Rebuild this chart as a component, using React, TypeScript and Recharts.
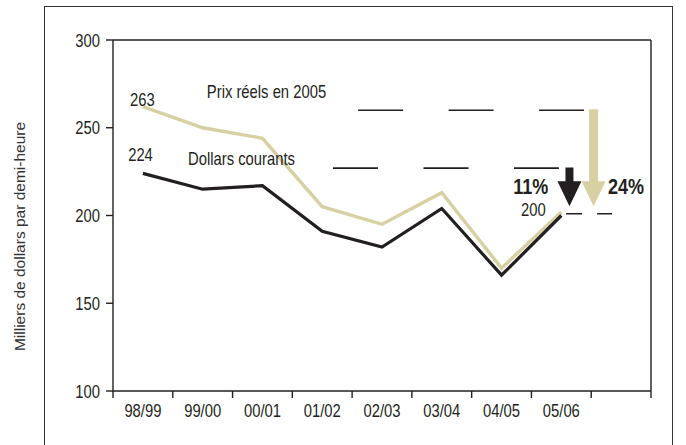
import React from 'react';
import {
  ComposedChart,
  Line,
  XAxis,
  YAxis,
  ReferenceLine,
  ReferenceDot,
} from 'recharts';

// ---------- data ----------
const categories = ['98/99', '99/00', '00/01', '01/02', '02/03', '03/04', '04/05', '05/06'];
const realPrices2005 = [262, 250, 244, 205, 195, 213, 170, 202];
const currentDollars = [224, 215, 217, 191, 182, 204, 166, 200];
const yTicks = [100, 150, 200, 250, 300];
const yTitle = 'Milliers de dollars par demi-heure';

// ---------- styles ----------
const INK = '#231F20';
const BEIGE = '#D7D0A2';
const SANS = "'Liberation Sans', Arial, Helvetica, sans-serif";
const SQUEEZE = 0.8;
const TICK_SIZE = 7;
const X_TICK_MARGIN = 6;

const bandCount = categories.length + 1; // one empty band at the right
const rows = categories.map((cat, i) => ({
  cat,
  pos: i + 0.5,
  real: realPrices2005[i],
  cur: currentDollars[i],
}));
const boundaryTicks = Array.from({ length: bandCount + 1 }, (_, i) => i);
const labelTicks = categories.map((_, i) => i + 0.5);
const xTicks = [...boundaryTicks, ...labelTicks].sort((a, b) => a - b);

const NarrowText = ({ x, y, dy, anchor, size, bold, children }: any) => (
  <text
    transform={`translate(${x} ${y}) scale(${SQUEEZE} 1)`}
    x={0}
    y={0}
    dy={dy}
    textAnchor={anchor}
    fontFamily={SANS}
    fontSize={size}
    fontWeight={bold ? 'bold' : 'normal'}
    fill={INK}
  >
    {children}
  </text>
);

const XTick = (props: any) => {
  const { x, y, payload } = props;
  const v = payload.value as number;
  if (Number.isInteger(v)) {
    return (
      <line
        x1={x}
        x2={x}
        y1={y - X_TICK_MARGIN - TICK_SIZE}
        y2={y - X_TICK_MARGIN}
        stroke={INK}
        strokeWidth={1.4}
      />
    );
  }
  return (
    <NarrowText x={x} y={y} dy="0.71em" anchor="middle" size={18.5}>
      {categories[Math.floor(v)]}
    </NarrowText>
  );
};

const YTick = (props: any) => {
  const { x, y, payload } = props;
  return (
    <NarrowText x={x} y={y} dy="0.355em" anchor="end" size={18.5}>
      {payload.value}
    </NarrowText>
  );
};

const YTitle = (props: any) => {
  const vb = props.viewBox || {};
  const cx = vb.x + 19;
  const cy = vb.y + vb.height / 2 + 21;
  return (
    <text
      x={cx}
      y={cy}
      transform={`rotate(-90 ${cx} ${cy})`}
      textAnchor="middle"
      dominantBaseline="central"
      fontFamily={SANS}
      fontSize={15.5}
      fill="#333"
    >
      {yTitle}
    </text>
  );
};

const arrowShape = (color: string, halfShaft: number, halfHead: number, headLen: number) => (p: any) => {
  const x = p.x1;
  const top = Math.min(p.y1, p.y2);
  const tip = Math.max(p.y1, p.y2);
  const hb = tip - headLen;
  const pts = [
    [x - halfShaft, top],
    [x + halfShaft, top],
    [x + halfShaft, hb],
    [x + halfHead, hb],
    [x, tip],
    [x - halfHead, hb],
    [x - halfShaft, hb],
  ]
    .map((q) => q.join(','))
    .join(' ');
  return <polygon points={pts} fill={color} />;
};

const textShape = (text: string, anchor: string, size: number, bold = false) => (p: any) => (
  <NarrowText x={p.cx} y={p.cy} dy="0.36em" anchor={anchor} size={size} bold={bold}>
    {text}
  </NarrowText>
);

// annotation placements (in axis units)
const notes = [
  { text: '263', x: 0.49, y: 266, anchor: 'middle', size: 18.5 },
  { text: '224', x: 0.46, y: 235, anchor: 'middle', size: 18.5 },
  { text: 'Prix réels en 2005', x: 1.57, y: 270.5, anchor: 'start', size: 18.5 },
  { text: 'Dollars courants', x: 1.255, y: 232.5, anchor: 'start', size: 18.5 },
  { text: '11%', x: 7.28, y: 217, anchor: 'end', size: 22.5, bold: true },
  { text: '24%', x: 8.28, y: 217, anchor: 'start', size: 22.5, bold: true },
  { text: '200', x: 7.24, y: 203.5, anchor: 'end', size: 18.5 },
];

export default function App() {
  return (
    <div style={{ position: 'absolute', left: 0, top: 0, width: 686, height: 445, overflow: 'hidden', background: '#fff' }}>
      <div
        style={{
          position: 'absolute',
          left: 44,
          top: 6,
          width: 629,
          height: 480,
          border: '1.4px solid #333',
          boxSizing: 'border-box',
        }}
      />
      <div style={{ position: 'absolute', left: 0, top: 0 }}>
        <ComposedChart
          width={686}
          height={445}
          data={rows}
          margin={{ top: 40, right: 35, bottom: 0, left: 0 }}
        >
          <XAxis
            dataKey="pos"
            type="number"
            domain={[0, bandCount]}
            ticks={xTicks}
            interval={0}
            tick={<XTick />}
            tickLine={false}
            tickSize={TICK_SIZE}
            tickMargin={X_TICK_MARGIN}
            axisLine={{ stroke: INK, strokeWidth: 1.4 }}
            height={54}
            allowDecimals
          />
          <YAxis
            type="number"
            domain={[100, 300]}
            ticks={yTicks}
            interval={0}
            width={113}
            tickSize={TICK_SIZE}
            tickMargin={6}
            axisLine={{ stroke: INK, strokeWidth: 1.4 }}
            tickLine={{ stroke: INK, strokeWidth: 1.4 }}
            tick={<YTick />}
            label={<YTitle />}
          />
          <ReferenceLine y={300} stroke={INK} strokeWidth={1.4} />
          <ReferenceLine x={bandCount} stroke={INK} strokeWidth={1.4} />

          <ReferenceLine
            segment={[{ x: 4.1, y: 260 }, { x: 7.88, y: 260 }]}
            stroke={INK}
            strokeWidth={1.6}
            strokeDasharray="45 45.5"
          />
          <ReferenceLine
            segment={[{ x: 3.68, y: 227 }, { x: 7.46, y: 227 }]}
            stroke={INK}
            strokeWidth={1.6}
            strokeDasharray="45 45.5"
          />
          <ReferenceLine
            segment={[{ x: 7.58, y: 201 }, { x: 8.35, y: 201 }]}
            stroke={INK}
            strokeWidth={1.6}
            strokeDasharray="16 15"
          />

          <Line
            dataKey="real"
            type="linear"
            stroke={BEIGE}
            strokeWidth={3.4}
            dot={false}
            activeDot={false}
            isAnimationActive={false}
          />
          <Line
            dataKey="cur"
            type="linear"
            stroke={INK}
            strokeWidth={3.2}
            dot={false}
            activeDot={false}
            isAnimationActive={false}
          />

          <ReferenceLine
            segment={[{ x: 7.636, y: 227.4 }, { x: 7.636, y: 205.3 }]}
            shape={arrowShape(INK, 4, 12, 25)}
          />
          <ReferenceLine
            segment={[{ x: 8.04, y: 260.6 }, { x: 8.04, y: 205.3 }]}
            shape={arrowShape(BEIGE, 4.5, 12, 25)}
          />

          {notes.map((n) => (
            <ReferenceDot
              key={n.text}
              x={n.x}
              y={n.y}
              r={0}
              shape={textShape(n.text, n.anchor, n.size, !!n.bold)}
            />
          ))}
        </ComposedChart>
      </div>
    </div>
  );
}
